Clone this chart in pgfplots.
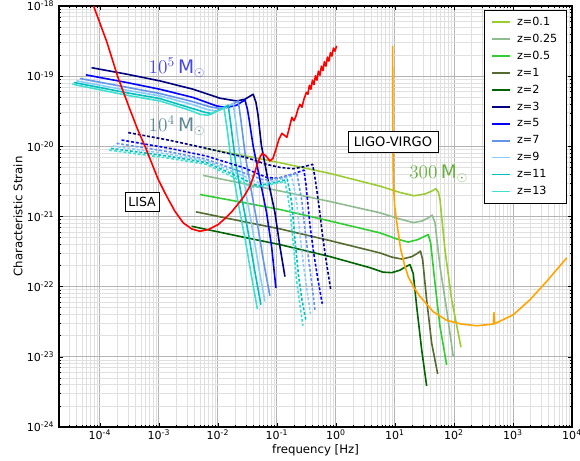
\documentclass[border=0pt]{standalone}
\usepackage{fontspec}
\setmainfont{DejaVu Sans}
\usepackage{pgfplots}
\usepackage{pgfplotstable}
\pgfplotsset{compat=1.18}

\definecolor{cz01}{RGB}{154,205,50}
\definecolor{cz025}{RGB}{143,188,143}
\definecolor{cz05}{RGB}{50,205,50}
\definecolor{cz1}{RGB}{85,107,47}
\definecolor{cz2}{RGB}{0,100,0}
\definecolor{cz3}{RGB}{0,0,128}
\definecolor{cz5}{RGB}{0,0,255}
\definecolor{cz7}{RGB}{100,149,237}
\definecolor{cz9}{RGB}{135,206,250}
\definecolor{cz11}{RGB}{0,191,191}
\definecolor{cz13}{RGB}{64,224,208}
\definecolor{ligo}{RGB}{255,165,0}
\definecolor{majgrid}{RGB}{180,180,180}
\definecolor{mingrid}{RGB}{224,224,224}
\definecolor{lbfive}{RGB}{70,70,225}
\definecolor{lbfour}{RGB}{95,135,150}
\definecolor{lbthree}{RGB}{105,175,65}

% log10(frequency/Hz), log10(strain)
\pgfplotstableread{
f h
-4.169 -17.857
-4.119 -17.971
-3.881 -18.514
-3.695 -19.014
-3.492 -19.471
-3.361 -19.757
-3.237 -19.996
-3.124 -20.233
-3.012 -20.471
-2.869 -20.710
-2.729 -20.924
-2.588 -21.090
-2.446 -21.176
-2.305 -21.210
-2.164 -21.186
-1.995 -21.114
-1.881 -21.029
-1.763 -20.929
-1.678 -20.843
-1.559 -20.714
-1.458 -20.571
-1.390 -20.414
-1.339 -20.271
-1.288 -20.157
-1.249 -20.100
-1.186 -20.136
-1.119 -20.207
-1.068 -20.171
-1.017 -20.043
-0.966 -19.900
-0.915 -19.814
-0.873 -19.843
-0.831 -19.871
-0.788 -19.729
-0.746 -19.586
-0.712 -19.636
-0.678 -19.571
-0.644 -19.471
-0.610 -19.400
-0.576 -19.443
-0.542 -19.329
-0.500 -19.229
-0.475 -19.257
-0.449 -19.129
-0.424 -19.186
-0.398 -19.057
-0.373 -19.121
-0.347 -18.993
-0.322 -19.057
-0.297 -18.929
-0.271 -18.986
-0.246 -18.857
-0.220 -18.921
-0.195 -18.793
-0.169 -18.857
-0.144 -18.729
-0.119 -18.786
-0.093 -18.664
-0.068 -18.714
-0.042 -18.600
-0.017 -18.643
0.012 -18.567
}\tLISA

\pgfplotstableread{
f h
0.961 -18.567
0.963 -19.329
0.966 -20.043
0.975 -20.514
0.992 -20.829
1.029 -21.071
1.098 -21.471
1.161 -21.686
1.225 -21.857
1.322 -22.014
1.424 -22.139
1.649 -22.357
1.876 -22.479
2.102 -22.529
2.385 -22.557
2.666 -22.533
2.678 -22.371
2.686 -22.529
3.005 -22.400
3.288 -22.186
3.571 -21.924
3.910 -21.590
}\tLIGO

\pgfplotstableread{
f h
-2.220 -20.029
-1.576 -20.129
-0.949 -20.233
-0.102 -20.386
0.746 -20.567
1.085 -20.657
1.322 -20.704
1.508 -20.679
1.610 -20.643
1.695 -20.604
1.737 -20.657
1.763 -20.757
1.805 -21.114
1.847 -21.471
1.961 -22.186
2.119 -22.864
}\tga

\pgfplotstableread{
f h
-2.249 -20.414
-1.576 -20.529
-0.949 -20.636
-0.102 -20.786
0.746 -20.947
1.085 -21.036
1.310 -21.086
1.458 -21.064
1.559 -21.021
1.632 -20.981
1.678 -21.090
1.763 -21.710
1.876 -22.329
1.988 -23.000
}\tgb

\pgfplotstableread{
f h
-2.305 -20.686
-1.576 -20.800
-0.949 -20.900
-0.102 -21.064
0.746 -21.233
1.034 -21.321
1.225 -21.364
1.390 -21.329
1.492 -21.286
1.564 -21.257
1.605 -21.376
1.678 -21.947
1.763 -22.567
1.876 -23.114
}\tgc

\pgfplotstableread{
f h
-2.373 -20.933
-1.576 -21.071
-0.949 -21.176
-0.102 -21.343
0.746 -21.519
0.949 -21.579
1.119 -21.607
1.288 -21.571
1.373 -21.529
1.432 -21.493
1.469 -21.614
1.537 -22.186
1.622 -22.804
1.724 -23.243
}\tgd

\pgfplotstableread{
f h
-2.446 -21.139
-1.576 -21.293
-0.949 -21.400
-0.102 -21.571
0.576 -21.729
0.797 -21.793
0.949 -21.800
1.085 -21.764
1.186 -21.714
1.254 -21.686
1.310 -21.814
1.368 -22.281
1.453 -22.900
1.537 -23.414
}\tge

% 1e5 Msun, solid
\pgfplotstableread{
f h
-4.141 -18.879
-3.547 -18.971
-2.983 -19.067
-2.419 -19.186
-1.966 -19.314
-1.683 -19.353
-1.542 -19.329
-1.458 -19.286
-1.402 -19.257
-1.356 -19.371
-1.322 -19.543
-1.263 -19.986
-1.153 -20.471
-1.034 -20.943
-0.949 -21.429
-0.864 -21.857
}\tsa

\pgfplotstableread{
f h
-4.237 -18.981
-3.547 -19.090
-2.983 -19.186
-2.419 -19.304
-2.022 -19.424
-1.853 -19.447
-1.683 -19.414
-1.542 -19.339
-1.500 -19.471
-1.466 -19.643
-1.402 -20.000
-1.288 -20.471
-1.175 -20.947
-1.090 -21.429
-1.017 -22.019
}\tsb

\pgfplotstableread{
f h
-4.339 -19.033
-3.547 -19.157
-2.983 -19.247
-2.419 -19.364
-2.136 -19.436
-1.966 -19.461
-1.797 -19.421
-1.656 -19.353
-1.610 -19.629
-1.534 -20.143
-1.432 -20.643
-1.322 -21.151
-1.220 -21.671
-1.119 -22.129
}\tsc

\pgfplotstableread{
f h
-4.395 -19.067
-3.547 -19.200
-2.983 -19.281
-2.419 -19.407
-2.169 -19.479
-2.022 -19.496
-1.864 -19.443
-1.741 -19.386
-1.695 -19.666
-1.619 -20.193
-1.517 -20.704
-1.407 -21.214
-1.305 -21.743
-1.203 -22.210
}\tsd

\pgfplotstableread{
f h
-4.441 -19.090
-3.547 -19.236
-2.983 -19.319
-2.475 -19.450
-2.220 -19.514
-2.107 -19.533
-1.949 -19.471
-1.825 -19.414
-1.780 -19.696
-1.700 -20.229
-1.593 -20.743
-1.480 -21.257
-1.373 -21.789
-1.271 -22.257
}\tse

\pgfplotstableread{
f h
-4.466 -19.114
-3.547 -19.271
-2.983 -19.353
-2.475 -19.486
-2.305 -19.543
-2.164 -19.557
-2.017 -19.500
-1.898 -19.447
-1.847 -19.731
-1.766 -20.269
-1.661 -20.789
-1.542 -21.307
-1.432 -21.843
-1.331 -22.319
}\tsf

% 1e4 Msun, dashed
\pgfplotstableread{
f h
-3.520 -19.804
-2.814 -19.914
-2.192 -20.029
-1.514 -20.161
-1.175 -20.257
-0.949 -20.300
-0.724 -20.319
-0.559 -20.293
-0.395 -20.257
-0.356 -20.443
-0.314 -20.686
-0.280 -20.900
-0.229 -21.257
-0.169 -21.614
-0.090 -22.033
}\tda

\pgfplotstableread{
f h
-3.632 -19.910
-2.814 -20.029
-2.192 -20.139
-1.576 -20.300
-1.175 -20.443
-0.983 -20.457
-0.746 -20.400
-0.542 -20.339
-0.508 -20.543
-0.483 -20.757
-0.441 -21.114
-0.373 -21.543
-0.305 -21.900
-0.232 -22.243
}\tdb

\pgfplotstableread{
f h
-3.717 -19.957
-2.814 -20.079
-2.192 -20.186
-1.627 -20.357
-1.254 -20.471
-1.119 -20.479
-0.864 -20.429
-0.661 -20.376
-0.619 -20.586
-0.581 -20.757
-0.525 -21.186
-0.458 -21.643
-0.407 -21.971
-0.356 -22.329
}\tdc

\pgfplotstableread{
f h
-3.775 -19.996
-2.814 -20.114
-2.192 -20.210
-1.627 -20.400
-1.322 -20.514
-1.203 -20.521
-0.949 -20.471
-0.751 -20.424
-0.703 -20.614
-0.661 -20.829
-0.610 -21.257
-0.551 -21.686
-0.492 -22.043
-0.432 -22.386
}\tdd

\pgfplotstableread{
f h
-3.814 -20.029
-2.814 -20.143
-2.192 -20.233
-1.661 -20.429
-1.390 -20.543
-1.288 -20.557
-1.034 -20.514
-0.825 -20.471
-0.780 -20.643
-0.746 -20.829
-0.695 -21.329
-0.636 -21.829
-0.576 -22.186
-0.508 -22.486
}\tde

\pgfplotstableread{
f h
-3.842 -20.053
-2.814 -20.171
-2.192 -20.257
-1.695 -20.457
-1.458 -20.571
-1.356 -20.586
-1.102 -20.543
-0.864 -20.500
-0.822 -20.671
-0.780 -20.900
-0.729 -21.329
-0.669 -21.900
-0.610 -22.257
-0.559 -22.557
}\tdf

\newcommand\curve[2]{\addplot[#1] table[x expr={10^(\thisrow{f})}, y expr={10^(\thisrow{h})}] {#2};}

\begin{document}
\begin{tikzpicture}
\path[use as bounding box] (-44.25pt,-24.75pt) rectangle (390.75pt,320.25pt);
\begin{axis}[
  scale only axis, width=384.75pt, height=315.75pt,
  at={(0,0)}, anchor=south west,
  xmode=log, ymode=log,
  xmin=2.03e-5, xmax=1e4, ymin=1e-24, ymax=1e-18,
  xtick={1e-4,1e-3,1e-2,1e-1,1,10,100,1000,10000},
  xticklabels={10\textsuperscript{-4},10\textsuperscript{-3},10\textsuperscript{-2},10\textsuperscript{-1},10\textsuperscript{0},10\textsuperscript{1},10\textsuperscript{2},10\textsuperscript{3},10\textsuperscript{4}},
  ytick={1e-24,1e-23,1e-22,1e-21,1e-20,1e-19,1e-18},
  yticklabels={10\textsuperscript{-24},10\textsuperscript{-23},10\textsuperscript{-22},10\textsuperscript{-21},10\textsuperscript{-20},10\textsuperscript{-19},10\textsuperscript{-18}},
  minor xtick={3e-5,4e-5,5e-5,6e-5,7e-5,8e-5,9e-5,
    2e-4,3e-4,4e-4,5e-4,6e-4,7e-4,8e-4,9e-4,
    2e-3,3e-3,4e-3,5e-3,6e-3,7e-3,8e-3,9e-3,
    2e-2,3e-2,4e-2,5e-2,6e-2,7e-2,8e-2,9e-2,
    2e-1,3e-1,4e-1,5e-1,6e-1,7e-1,8e-1,9e-1,
    2,3,4,5,6,7,8,9,20,30,40,50,60,70,80,90,
    200,300,400,500,600,700,800,900,2000,3000,4000,5000,6000,7000,8000,9000},
  minor ytick={2e-24,3e-24,4e-24,5e-24,6e-24,7e-24,8e-24,9e-24,
    2e-23,3e-23,4e-23,5e-23,6e-23,7e-23,8e-23,9e-23,
    2e-22,3e-22,4e-22,5e-22,6e-22,7e-22,8e-22,9e-22,
    2e-21,3e-21,4e-21,5e-21,6e-21,7e-21,8e-21,9e-21,
    2e-20,3e-20,4e-20,5e-20,6e-20,7e-20,8e-20,9e-20,
    2e-19,3e-19,4e-19,5e-19,6e-19,7e-19,8e-19,9e-19},
  grid=both,
  major grid style={majgrid, line width=0.7pt},
  minor grid style={mingrid, line width=0.6pt},
  tick align=inside,
  major tick length=3pt, minor tick length=1.6pt,
  tick style={black, line width=0.5pt},
  axis line style={line width=0.8pt},
  tick label style={font=\fontsize{8.3}{10}\selectfont},
  xticklabel style={yshift=1.5pt},
  xlabel={frequency [Hz]}, ylabel={Characteristic Strain},
  label style={font=\fontsize{8.8}{10.5}\selectfont},
  xlabel style={at={(axis description cs:0.5,-0.056)}, anchor=center},
  ylabel style={at={(axis description cs:-0.080,0.5)}, anchor=center},
  legend style={at={(1,1)}, anchor=north east, xshift=-3.75pt, yshift=-3pt,
    draw=black, line width=0.6pt, fill=white,
    font=\fontsize{8.4}{10}\selectfont, row sep=1.0pt, column sep=3pt,
    inner xsep=5pt, inner ysep=3pt},
  legend cell align=left,
  legend image code/.code={\draw[#1, line width=1.2pt] (0pt,0pt) -- (13.5pt,0pt);},
  every axis plot/.append style={line width=1.2pt, line join=round},
]
\curve{cz01}{\tga}\addlegendentry{z=0.1}
\curve{cz025}{\tgb}\addlegendentry{z=0.25}
\curve{cz05}{\tgc}\addlegendentry{z=0.5}
\curve{cz1}{\tgd}\addlegendentry{z=1}
\curve{cz2}{\tge}\addlegendentry{z=2}
\curve{cz3}{\tsa}\addlegendentry{z=3}
\curve{cz5}{\tsb}\addlegendentry{z=5}
\curve{cz7}{\tsc}\addlegendentry{z=7}
\curve{cz9}{\tsd}\addlegendentry{z=9}
\curve{cz11}{\tse}\addlegendentry{z=11}
\curve{cz13}{\tsf}\addlegendentry{z=13}
\curve{cz3, dash pattern=on 2.2pt off 1.4pt, forget plot}{\tda}
\curve{cz5, dash pattern=on 2.2pt off 1.4pt, forget plot}{\tdb}
\curve{cz7, dash pattern=on 2.2pt off 1.4pt, forget plot}{\tdc}
\curve{cz9, dash pattern=on 2.2pt off 1.4pt, forget plot}{\tdd}
\curve{cz11, dash pattern=on 2.2pt off 1.4pt, forget plot}{\tde}
\curve{cz13, dash pattern=on 2.2pt off 1.4pt, forget plot}{\tdf}
\curve{red, forget plot}{\tLISA}
\curve{ligo, forget plot}{\tLIGO}
\node[text=lbfive, font=\fontsize{14}{16}\selectfont] at (axis description cs:0.230,0.854) {$10^5\,\mathrm{M}_\odot$};
\node[text=lbfour, font=\fontsize{14}{16}\selectfont] at (axis description cs:0.230,0.715) {$10^4\,\mathrm{M}_\odot$};
\node[text=lbthree, font=\fontsize{14}{16}\selectfont] at (axis description cs:0.740,0.601) {$300\,\mathrm{M}_\odot$};
\node[draw=black, line width=0.6pt, fill=white, font=\fontsize{9.4}{11}\selectfont, minimum width=25.5pt, minimum height=14.25pt, inner sep=1pt] at (axis description cs:0.162,0.534) {LISA};
\node[draw=black, line width=0.6pt, fill=white, font=\fontsize{9.8}{11}\selectfont, minimum width=67.5pt, minimum height=15.75pt, inner sep=1pt] at (axis description cs:0.651,0.678) {LIGO-VIRGO};
\end{axis}
\end{tikzpicture}
\end{document}
